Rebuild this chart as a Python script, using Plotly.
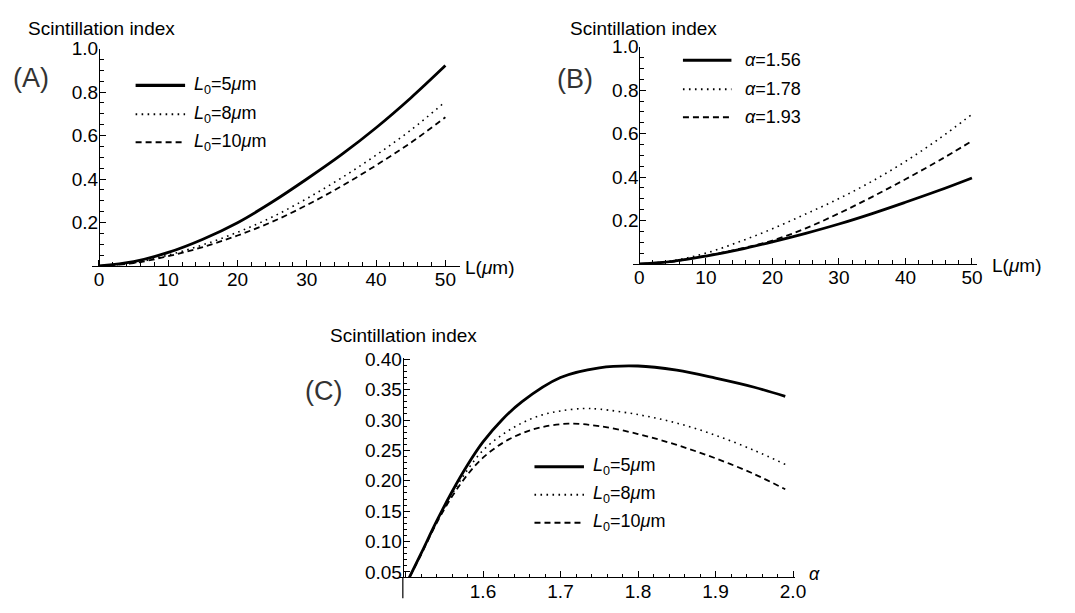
import plotly.graph_objects as go

W, H = 1075, 613
FONT = "Liberation Sans, Arial, Helvetica, sans-serif"

# ---------------- data ----------------
L_um = [0, 5, 10, 15, 20, 25, 30, 35, 40, 45, 50]

# Panel A: scintillation index vs L for several L0
A_L0_5 = [0, 0.020, 0.062, 0.123, 0.199, 0.294, 0.400, 0.512, 0.636, 0.773, 0.922]
A_L0_8 = [0, 0.014, 0.050, 0.097, 0.155, 0.225, 0.310, 0.405, 0.510, 0.625, 0.756]
A_L0_10 = [0, 0.013, 0.045, 0.087, 0.140, 0.203, 0.280, 0.367, 0.463, 0.567, 0.684]

# Panel B: scintillation index vs L for several alpha
B_a156 = [0, 0.012, 0.036, 0.066, 0.102, 0.141, 0.184, 0.232, 0.284, 0.338, 0.396]
B_a178 = [0, 0.015, 0.050, 0.102, 0.162, 0.230, 0.301, 0.381, 0.472, 0.575, 0.689]
B_a193 = [0, 0.011, 0.038, 0.069, 0.108, 0.164, 0.233, 0.309, 0.390, 0.475, 0.566]

# Panel C: scintillation index vs alpha for several L0
C_alpha_5 = [1.505, 1.52, 1.54, 1.56, 1.58, 1.60, 1.625, 1.65, 1.70, 1.75, 1.80, 1.85, 1.90, 1.95, 1.99]
C_L0_5 = [0.041, 0.080, 0.133, 0.182, 0.226, 0.264, 0.301, 0.330, 0.370, 0.386, 0.389, 0.382, 0.369, 0.354, 0.339]
C_alpha_8 = [1.505, 1.52, 1.54, 1.56, 1.58, 1.60, 1.625, 1.65, 1.675, 1.70, 1.73, 1.75, 1.80, 1.85, 1.90, 1.95, 1.99]
C_L0_8 = [0.041, 0.079, 0.132, 0.178, 0.218, 0.250, 0.276, 0.295, 0.308, 0.315, 0.319, 0.318, 0.309, 0.295, 0.275, 0.250, 0.227]
C_alpha_10 = [1.505, 1.52, 1.54, 1.56, 1.58, 1.60, 1.625, 1.65, 1.675, 1.71, 1.75, 1.80, 1.85, 1.90, 1.95, 1.99]
C_L0_10 = [0.041, 0.078, 0.130, 0.174, 0.210, 0.238, 0.262, 0.278, 0.288, 0.294, 0.290, 0.277, 0.259, 0.237, 0.211, 0.186]

labels_L0 = ["<i>L</i><sub>0</sub>=5<i>μ</i>m", "<i>L</i><sub>0</sub>=8<i>μ</i>m", "<i>L</i><sub>0</sub>=10<i>μ</i>m"]
labels_alpha = ["<i>α</i>=1.56", "<i>α</i>=1.78", "<i>α</i>=1.93"]

# ---------------- styles ----------------
STYLES = [
    dict(color="black", width=2.8, dash="solid"),
    dict(color="black", width=1.6, dash="1.6px,4.4px"),
    dict(color="black", width=1.8, dash="6px,4px"),
]


def px_x(p):
    return p / W


def px_y(p):
    return 1 - p / H


fig = go.Figure()

for ys, st in zip([A_L0_5, A_L0_8, A_L0_10], STYLES):
    fig.add_trace(go.Scatter(x=L_um, y=ys, mode="lines", line=dict(**st, shape="spline"),
                             xaxis="x", yaxis="y", showlegend=False, hoverinfo="skip"))
for ys, st in zip([B_a156, B_a178, B_a193], STYLES):
    fig.add_trace(go.Scatter(x=L_um, y=ys, mode="lines", line=dict(**st, shape="spline"),
                             xaxis="x2", yaxis="y2", showlegend=False, hoverinfo="skip"))
for xs, ys, st in zip([C_alpha_5, C_alpha_8, C_alpha_10], [C_L0_5, C_L0_8, C_L0_10], STYLES):
    fig.add_trace(go.Scatter(x=xs, y=ys, mode="lines", line=dict(**st, shape="spline"),
                             xaxis="x3", yaxis="y3", showlegend=False, hoverinfo="skip"))

tickfont = dict(family=FONT, size=19, color="black")
common = dict(showgrid=False, zeroline=False, showline=True, linecolor="black", linewidth=1.2,
              ticks="inside", ticklen=6, tickwidth=1.2, tickcolor="black", tickfont=tickfont,
              tickmode="linear", layer="above traces")


def minor(d, t0=0):
    return dict(ticks="inside", ticklen=3.5, tickcolor="black", tickwidth=1.1, tick0=t0, dtick=d, showgrid=False)


fig.update_layout(
    xaxis=dict(**common, domain=[px_x(93), px_x(465)], range=[-1, 365 / 7], anchor="y",
               tick0=0, dtick=10, minor=minor(2), ticklabelstandoff=-4),
    yaxis=dict(**common, domain=[px_y(265), px_y(40)], range=[0, 1.0], anchor="free", position=px_x(100),
               tick0=0, dtick=0.2, tickformat=".1f", labelalias={"0.0": " "},
               minor=minor(0.05), ticklabelstandoff=-3),
    xaxis2=dict(**common, domain=[px_x(640), px_x(987)], range=[-6 / 6.72, 341 / 6.72], anchor="y2",
                tick0=0, dtick=10, minor=minor(2), ticklabelstandoff=-4),
    yaxis2=dict(**common, domain=[px_y(263), px_y(38)], range=[0, 1.0], anchor="free", position=px_x(646),
                tick0=0, dtick=0.2, tickformat=".1f", labelalias={"0.0": " "},
                minor=minor(0.05), ticklabelstandoff=-3),
    xaxis3=dict(**common, domain=[px_x(403), px_x(803)], range=[1.6 - 85 / 783, 1.6 + 315 / 783], anchor="y3",
                tick0=1.5, dtick=0.1, tickformat=".1f", labelalias={"1.5": " "},
                minor=minor(0.02, 1.5), ticklabelstandoff=-3),
    yaxis3=dict(**common, domain=[px_y(587.5), px_y(360)], range=[0.041, 0.4027], anchor="free", position=px_x(407),
                tick0=0, dtick=0.05, tickformat=".2f",
                minor=minor(0.01), ticklabelstandoff=-3),
)

shapes = []
annotations = []

# y-axis extension below x-axis in panel C
shapes.append(dict(type="line", xref="paper", yref="paper", x0=px_x(407), x1=px_x(407),
                   y0=px_y(587.5), y1=px_y(609), line=dict(color="black", width=1.2)))


def legend(x0, x1, ys, tx, labels):
    for y, st, lab in zip(ys, STYLES, labels):
        shapes.append(dict(type="line", xref="paper", yref="paper", x0=px_x(x0), x1=px_x(x1),
                           y0=px_y(y), y1=px_y(y), line=dict(color="black", width=st["width"] + 0.3, dash=st["dash"])))
        annotations.append(dict(text=lab, xref="paper", yref="paper", x=px_x(tx), y=px_y(y),
                                xanchor="left", yanchor="middle", showarrow=False,
                                font=dict(family=FONT, size=18, color="black")))


legend(137, 187, [78, 108, 137], 194, labels_L0)
legend(690, 739, [52, 82, 111], 751, labels_alpha)
legend(540, 590, [473, 502, 531], 597, labels_L0)


def text(t, x, y, size, color="black", xanchor="left"):
    annotations.append(dict(text=t, xref="paper", yref="paper", x=px_x(x), y=px_y(y),
                            xanchor=xanchor, yanchor="middle", showarrow=False,
                            font=dict(family=FONT, size=size, color=color)))


text("Scintillation index", 26, 19, 19)
text("Scintillation index", 574, 19, 19)
text("Scintillation index", 331, 337, 19)
text("(A)", 31, 70, 27, "#333333", "center")
text("(B)", 581, 71, 27, "#333333", "center")
text("(C)", 327, 394, 27, "#333333", "center")
text("L(<i>μ</i>m)", 468, 267, 19)
text("L(<i>μ</i>m)", 1000, 265, 19)
text("<i>α</i>", 815, 584, 18)

fig.update_layout(
    width=W, height=H, margin=dict(l=0, r=0, t=0, b=0),
    paper_bgcolor="white", plot_bgcolor="white",
    shapes=shapes, annotations=annotations, showlegend=False,
    font=dict(family=FONT, color="black"),
)

fig.write_html("out.html")
